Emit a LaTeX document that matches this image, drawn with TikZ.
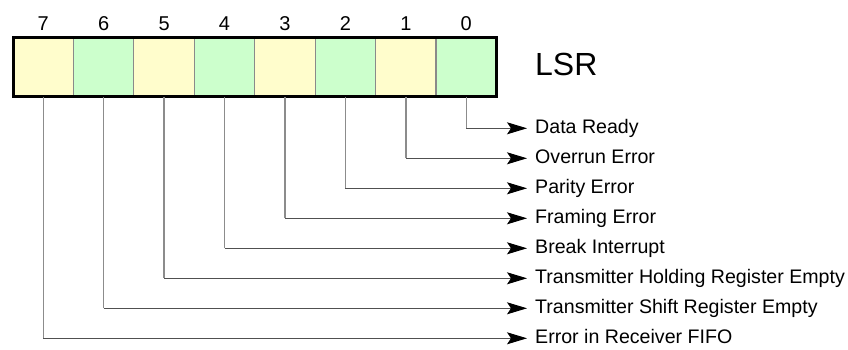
\documentclass[tikz,border=0pt]{standalone}
\usepackage{fontspec}
\setmainfont{Liberation Sans}
\usetikzlibrary{arrows.meta}
\definecolor{bityellow}{HTML}{FFFDCC}
\definecolor{bitgreen}{HTML}{CCFFCC}
\definecolor{divider}{HTML}{8A8A8A}
\definecolor{leadv}{HTML}{8C8C8C}
\definecolor{leadh}{HTML}{505050}
\begin{document}
\begin{tikzpicture}[x=1pt,y=-1pt,
  cell/.style={draw=divider, line width=1.2pt, minimum width=60.44pt,
    minimum height=59pt, inner sep=0pt, outer sep=0pt},
  bitnum/.style={font=\fontsize{20}{24}\selectfont, inner sep=0pt},
  flag/.style={font=\fontsize{19.6}{23}\selectfont, anchor=west,
    inner xsep=8pt, inner ysep=0pt, text height=13.7pt, text depth=3.5pt},
  vlead/.style={draw=leadv, line width=1.3pt},
  hlead/.style={draw=leadh, line width=1pt,
    -{Stealth[length=20pt,width=12pt,inset=4pt,color=black]}},
  regframe/.style={draw=black, line width=3pt}
]
\useasboundingbox (0,0) rectangle (848,350);

% register cells, bit 7 on the left
\foreach \b/\col [count=\i from 0] in
  {7/bityellow,6/bitgreen,5/bityellow,4/bitgreen,
   3/bityellow,2/bitgreen,1/bityellow,0/bitgreen}{
  \node[cell, fill=\col] (c\b) at ({13+60.44*(\i+0.5)}, 67.5) {};
  \node[bitnum] (n\b) at (c\b.center |- 0,24) {\b};
}
\draw[regframe] (c7.north west) rectangle (c0.south east);

\node[font=\fontsize{32}{38}\selectfont, anchor=west, inner sep=0pt]
  (lsr) at (535, 64) {LSR};

% flag descriptions, one row per bit
\foreach \b/\txt [count=\j from 0] in
  {0/Data Ready,
   1/Overrun Error,
   2/Parity Error,
   3/Framing Error,
   4/Break Interrupt,
   5/Transmitter Holding Register Empty,
   6/Transmitter Shift Register Empty,
   7/Error in Receiver FIFO}{
  \node[flag] (f\b) at (527, {128.3+30*\j}) {\txt};
  \draw[vlead] (c\b.south) -- (c\b.south |- f\b.west);
  \draw[hlead] (c\b.south |- f\b.west) -- (f\b.west);
}
\end{tikzpicture}
\end{document}
